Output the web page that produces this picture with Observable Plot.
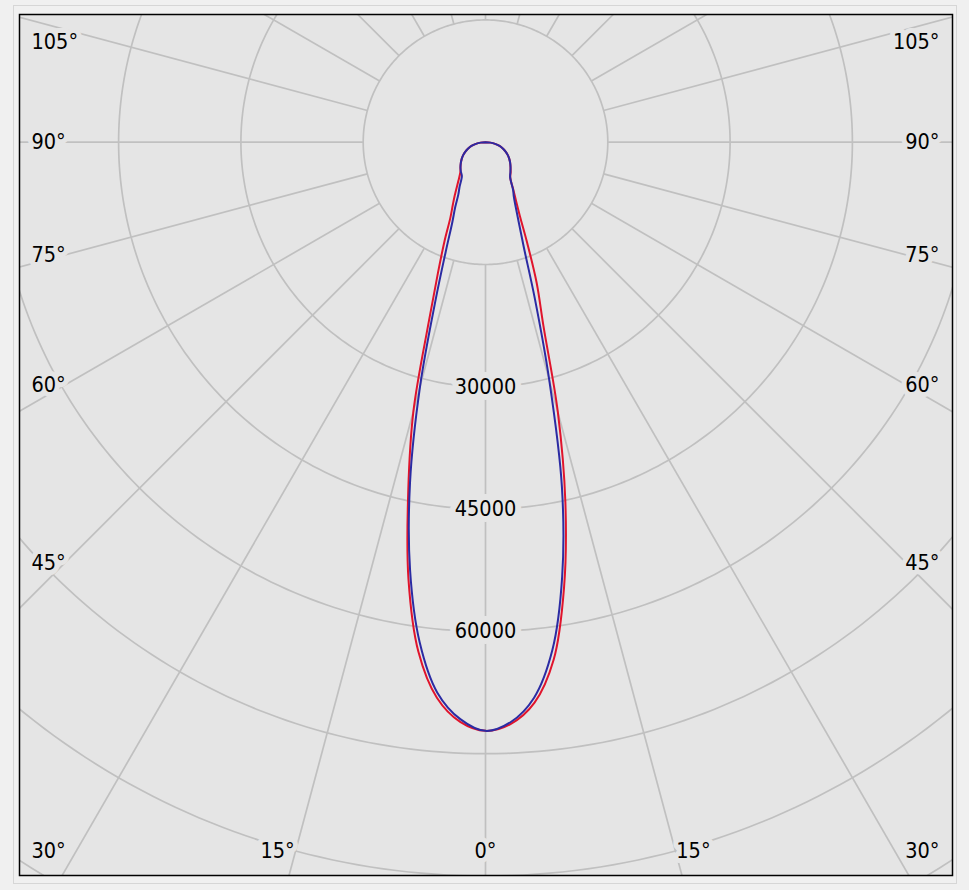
<!DOCTYPE html>
<html>
<head>
<meta charset="utf-8">
<script src="https://cdn.jsdelivr.net/npm/d3@7"></script>
<script src="https://cdn.jsdelivr.net/npm/@observablehq/plot@0.6"></script>
<style>
  body { margin: 0; background: #f0f0f0; }
  #wrap { position: relative; width: 969px; height: 890px; }
  #outer { position: absolute; left: 13px; top: 5px; width: 942px; height: 877px; border: 1px solid #d6d6d6; }
  #chart { position: absolute; left: 0; top: 0; }
</style>
</head>
<body>
<div id="wrap"><div id="outer"></div><div id="chart"></div></div>
<script>
// ---- data (luminous intensity in cd, angle from nadir in degrees) ----
const angles    = [0, 2.5, 5, 7.5, 10, 12.5, 15, 17.5, 20, 22.5, 25, 27.5, 30, 35, 40, 45, 50, 55, 60, 65, 70, 75, 80, 85, 90];
const redLeft   = [72200, 71170, 68400, 63040, 54410, 43770, 34150, 23200, 17050, 13140, 10170, 8690, 7550, 5810, 4800, 4340, 3950, 3560, 3160, 2720, 2260, 1780, 1200, 600, 0];
const redRight  = [72200, 71400, 69000, 64030, 55470, 45270, 34300, 23630, 18340, 13350, 9950, 8100, 6900, 5300, 4800, 4340, 3950, 3560, 3160, 2720, 2260, 1780, 1200, 600, 0];
const blueLeft  = [72200, 70830, 67770, 61860, 53280, 42770, 31030, 20470, 14230, 10650, 8800, 7210, 6380, 5050, 4700, 4340, 3950, 3560, 3160, 2720, 2260, 1780, 1200, 600, 0];
const blueRight = [72200, 71180, 68390, 62830, 54140, 43300, 30220, 20150, 13780, 10690, 8770, 7520, 6770, 5270, 4750, 4340, 3950, 3560, 3160, 2720, 2260, 1780, 1200, 600, 0];

const ringValues  = [15000, 30000, 45000, 60000, 75000, 90000, 105000];
const ringLabels  = [30000, 45000, 60000];
const angleTicks  = [0, 15, 30, 45, 60, 75, 90, 105];
const spokeAngles = d3.range(0, 360, 15);

// ---- layout ----
const W = 969, H = 890;
const cx = 485, cy = 141.7;          // pole position in pixels
const k = 15000 / 122.3;              // cd per pixel
const fx0 = 19, fx1 = 952, fy0 = 14, fy1 = 875;
const bg = "#e5e5e5", gridColor = "#c0c0c0";
const font = "'DejaVu Sans Condensed', 'DejaVu Sans', sans-serif";
const rad = d => d * Math.PI / 180;

function polar(angle, I, side) { return {x: side * I * Math.sin(rad(angle)), y: I * Math.cos(rad(angle))}; }

function curve(left, right, name) {
  const pts = [];
  for (let i = angles.length - 1; i >= 0; i--) pts.push({...polar(angles[i], left[i], -1), s: name});
  for (let i = 1; i < angles.length; i++) pts.push({...polar(angles[i], right[i], 1), s: name});
  return pts;
}
const red = curve(redLeft, redRight, "C0-C180");
const blue = curve(blueLeft, blueRight, "C90-C270");

const rings = ringValues.flatMap(r => d3.range(0, 361, 1).map(a => ({r, x: r * Math.sin(rad(a)), y: r * Math.cos(rad(a))})));
const spokes = spokeAngles.map(a => ({
  x1: 15000 * Math.sin(rad(a)), y1: 15000 * Math.cos(rad(a)),
  x2: 200000 * Math.sin(rad(a)), y2: 200000 * Math.cos(rad(a))
}));

// angle labels: placed where the spoke meets an inner label box, clamped vertically
const boxW = 421, boxB = 776, sideX = 454, yMin = -100, yMax = 709;
const angleLabels = [];
for (const a of angleTicks) {
  for (const side of (a === 0 ? [1] : [-1, 1])) {
    const dx = side * Math.sin(rad(a)), dy = Math.cos(rad(a));
    const ts = [];
    if (Math.abs(dx) > 1e-9) ts.push(boxW / Math.abs(dx));
    if (dy > 1e-9) ts.push(boxB / dy);
    const t = Math.min(...ts);
    const px = t * dx, py = Math.max(yMin, Math.min(yMax, t * dy));
    const onSide = Math.abs(px) >= boxW - 0.5;
    angleLabels.push({
      text: `${a}°`,
      x: (onSide ? side * sideX : px) * k,
      y: py * k,
      anchor: onSide ? (side < 0 ? "start" : "end") : "middle"
    });
  }
}

const textOpts = {fontSize: 21.5, fontFamily: font, fill: "#000", stroke: bg, strokeWidth: 10, strokeLinejoin: "round"};

const chart = Plot.plot({
  width: W, height: H,
  marginLeft: fx0, marginRight: W - fx1, marginTop: fy0, marginBottom: H - fy1,
  style: {background: "transparent", overflow: "visible"},
  x: {domain: [(fx0 - cx) * k, (fx1 - cx) * k], range: [fx0, fx1], axis: null},
  y: {domain: [(fy0 - cy) * k, (fy1 - cy) * k], range: [fy0, fy1], axis: null},
  marks: [
    Plot.frame({fill: bg, stroke: null}),
    Plot.line(rings, {x: "x", y: "y", z: "r", stroke: gridColor, strokeWidth: 1.7, clip: true}),
    Plot.link(spokes, {x1: "x1", y1: "y1", x2: "x2", y2: "y2", stroke: gridColor, strokeWidth: 1.7, clip: true}),
    Plot.text(ringLabels, {x: () => 0, y: d => d, text: d => String(d), ...textOpts, strokeWidth: 12}),
    Plot.text(angleLabels.filter(d => d.anchor === "start"), {x: "x", y: "y", text: "text", textAnchor: "start", ...textOpts}),
    Plot.text(angleLabels.filter(d => d.anchor === "middle"), {x: "x", y: "y", text: "text", textAnchor: "middle", ...textOpts}),
    Plot.text(angleLabels.filter(d => d.anchor === "end"), {x: "x", y: "y", text: "text", textAnchor: "end", ...textOpts}),
    Plot.line(red, {x: "x", y: "y", stroke: "#e0142c", strokeWidth: 2, curve: "catmull-rom"}),
    Plot.line(blue, {x: "x", y: "y", stroke: "#2b2ba3", strokeWidth: 2, curve: "catmull-rom"}),
    Plot.frame({stroke: "#000", strokeWidth: 1.5})
  ]
});
document.getElementById("chart").appendChild(chart);
</script>
</body>
</html>
